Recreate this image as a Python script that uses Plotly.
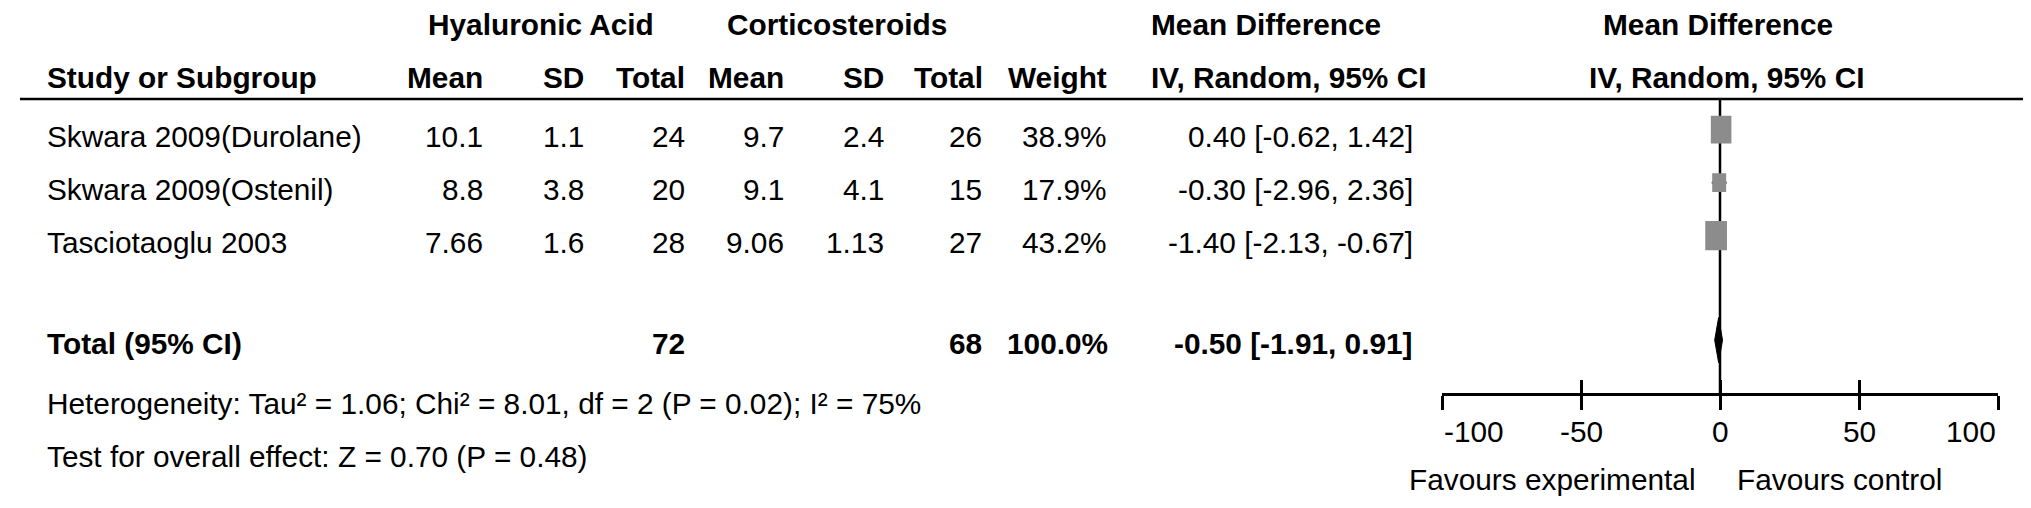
import plotly.graph_objects as go

# ---------------- data ----------------
STUDIES = ["Skwara 2009(Durolane)", "Skwara 2009(Ostenil)", "Tasciotaoglu 2003"]
HA_MEAN = ["10.1", "8.8", "7.66"]
HA_SD = ["1.1", "3.8", "1.6"]
HA_TOTAL = [24, 20, 28]
CS_MEAN = ["9.7", "9.1", "9.06"]
CS_SD = ["2.4", "4.1", "1.13"]
CS_TOTAL = [26, 15, 27]
WEIGHT = [38.9, 17.9, 43.2]
MD = [0.40, -0.30, -1.40]
CI_LO = [-0.62, -2.96, -2.13]
CI_HI = [1.42, 2.36, -0.67]

TOTAL_HA = 72
TOTAL_CS = 68
TOTAL_WEIGHT = 100.0
TOTAL_MD = -0.50
TOTAL_LO = -1.91
TOTAL_HI = 0.91

HETEROGENEITY = "Heterogeneity: Tau² = 1.06; Chi² = 8.01, df = 2 (P = 0.02); I² = 75%"
OVERALL = "Test for overall effect: Z = 0.70 (P = 0.48)"

TICK_VALUES = [-100, -50, 0, 50, 100]
TICK_LABELS = ["-100", "-50", "0", "50", "100"]
FAVOURS_LEFT = "Favours experimental"
FAVOURS_RIGHT = "Favours control"

# ---------------- layout helpers ----------------
W, H = 2031, 508
FONT = "Liberation Sans, Arial, sans-serif"
FS = 29.8
TEXT_SHIFT = 8  # px, lift text so cap-centres sit on the row lines


def px(x):
    return x / W


def py(y):
    return 1 - y / H


# y axis: row units, row k centred at pixel 136 + 53*k
ROW_PX0, ROW_STEP = 136, 53
Y_RANGE = [(H - ROW_PX0) / ROW_STEP, -ROW_PX0 / ROW_STEP]
HEADER1_Y = -2.11
HEADER2_Y = -1.11
ROWS = [0, 1, 2]
TOTAL_Y = 3.92
HET_Y = 5.04
TEST_Y = 6.04
MARK_SHIFT = -0.27
DIAMOND_SHIFT = -0.22

# forest axis: -100..100 spans pixels 1434..1990
X_DOMAIN = [px(1434), px(1990)]
PX_PER_UNIT = (1990 - 1434) / 200.0
AXIS_Y_PX = 386
HEADER_LINE_PX = 91

fig = go.Figure()

# CI whiskers (drawn first, beneath the boxes)
wx, wy = [], []
for k, lo, hi in zip(ROWS, CI_LO, CI_HI):
    wx += [lo, hi, None]
    wy += [k + MARK_SHIFT, k + MARK_SHIFT, None]
fig.add_trace(go.Scatter(x=wx, y=wy, mode="lines",
                         line=dict(color="black", width=2),
                         hoverinfo="skip", showlegend=False))

# weight boxes (size scales with sqrt of weight)
bx, by = [], []
for k, m, w in zip(ROWS, MD, WEIGHT):
    hw = 3.3 * (w ** 0.5) / PX_PER_UNIT / 2
    hh = 4.45 * (w ** 0.5) / ROW_STEP / 2
    yc = k + MARK_SHIFT
    bx += [m - hw, m + hw, m + hw, m - hw, m - hw, None]
    by += [yc - hh, yc - hh, yc + hh, yc + hh, yc - hh, None]
fig.add_trace(go.Scatter(x=bx, y=by, mode="lines", fill="toself",
                         fillcolor="#8c8c8c", line=dict(width=0, color="#8c8c8c"),
                         hoverinfo="skip", showlegend=False))

# pooled diamond
dy = TOTAL_Y + DIAMOND_SHIFT
dh = 22.5 / ROW_STEP
fig.add_trace(go.Scatter(
    x=[TOTAL_LO, TOTAL_MD, TOTAL_HI, TOTAL_MD, TOTAL_LO],
    y=[dy, dy - dh, dy, dy + dh, dy],
    mode="lines", fill="toself", fillcolor="black",
    line=dict(color="black", width=1),
    hoverinfo="skip", showlegend=False,
))

ann = []


def text(x_px, y, s, anchor, bold=False, yref="y"):
    ann.append(dict(
        x=px(x_px), xref="paper", y=y, yref=yref, yshift=TEXT_SHIFT,
        text=f"<b>{s}</b>" if bold else s,
        xanchor=anchor, yanchor="middle", showarrow=False,
        font=dict(family=FONT, size=FS, color="black"),
    ))


# header row 1
text(533, HEADER1_Y, "Hyaluronic Acid", "center", True)
text(829, HEADER1_Y, "Corticosteroids", "center", True)
text(1141, HEADER1_Y, "Mean Difference", "left", True)
text(1710, HEADER1_Y, "Mean Difference", "center", True)

# header row 2
text(36.7, HEADER2_Y, "Study or Subgroup", "left", True)
for xr, s in [(476.5, "Mean"), (578, "SD"), (678.5, "Total"),
              (778, "Mean"), (878, "SD"), (976.5, "Total"), (1101, "Weight")]:
    text(xr, HEADER2_Y, s, "right", True)
text(1141, HEADER2_Y, "IV, Random, 95% CI", "left", True)
text(1718, HEADER2_Y, "IV, Random, 95% CI", "center", True)

# study rows
for i, k in enumerate(ROWS):
    text(36.7, k, STUDIES[i], "left")
    text(476.5, k, HA_MEAN[i], "right")
    text(578, k, HA_SD[i], "right")
    text(678.5, k, str(HA_TOTAL[i]), "right")
    text(778, k, CS_MEAN[i], "right")
    text(878, k, CS_SD[i], "right")
    text(976, k, str(CS_TOTAL[i]), "right")
    text(1101, k, f"{WEIGHT[i]:.1f}%", "right")
    text(1406.5, k, f"{MD[i]:.2f} [{CI_LO[i]:.2f}, {CI_HI[i]:.2f}]", "right")

# total row
text(36.7, TOTAL_Y, "Total (95% CI)", "left", True)
text(678.5, TOTAL_Y, str(TOTAL_HA), "right", True)
text(976, TOTAL_Y, str(TOTAL_CS), "right", True)
text(1102, TOTAL_Y, f"{TOTAL_WEIGHT:.1f}%", "right", True)
text(1406.5, TOTAL_Y, f"{TOTAL_MD:.2f} [{TOTAL_LO:.2f}, {TOTAL_HI:.2f}]", "right", True)

text(36.7, HET_Y, HETEROGENEITY, "left")
text(36.7, TEST_Y, OVERALL, "left")

# tick labels (end labels aligned inward)
anchors = ["left", "center", "center", "center", "right"]
for v, lab, a in zip(TICK_VALUES, TICK_LABELS, anchors):
    ann.append(dict(x=v, xref="x", y=py(431), yref="paper", yshift=TEXT_SHIFT,
                    text=lab, xanchor=a, yanchor="middle", showarrow=False,
                    font=dict(family=FONT, size=FS, color="black")))

text(1690, py(479), FAVOURS_LEFT, "right", yref="paper")
text(1727, py(479), FAVOURS_RIGHT, "left", yref="paper")

shapes = [
    # header rule
    dict(type="line", xref="paper", yref="paper",
         x0=px(12), x1=px(2018), y0=py(HEADER_LINE_PX), y1=py(HEADER_LINE_PX),
         line=dict(color="black", width=2.5)),
    # line of no effect
    dict(type="line", xref="x", yref="paper", x0=0, x1=0,
         y0=py(HEADER_LINE_PX), y1=py(AXIS_Y_PX),
         line=dict(color="black", width=2.5), layer="below"),
]

axis_common = dict(
    domain=X_DOMAIN, range=[-100, 100], anchor="free", position=py(AXIS_Y_PX),
    tickvals=TICK_VALUES, ticklen=14, tickwidth=2.5, tickcolor="black",
    showticklabels=False, showgrid=False, zeroline=False, fixedrange=True,
)

fig.update_layout(
    width=W, height=H,
    margin=dict(l=0, r=0, t=0, b=0),
    paper_bgcolor="white", plot_bgcolor="rgba(0,0,0,0)",
    showlegend=False,
    xaxis=dict(**axis_common, ticks="outside", showline=True,
               linecolor="black", linewidth=2.5),
    xaxis2=dict(**axis_common, ticks="inside", showline=False,
                overlaying="x", matches="x"),
    yaxis=dict(domain=[0, 1], range=Y_RANGE, visible=False, fixedrange=True),
    annotations=ann,
    shapes=shapes,
)

# invisible trace so the overlaid tick axis is drawn
fig.add_trace(go.Scatter(x=[0], y=[0], xaxis="x2", mode="markers",
                         marker=dict(opacity=0), hoverinfo="skip", showlegend=False))

fig.write_html("out.html")
